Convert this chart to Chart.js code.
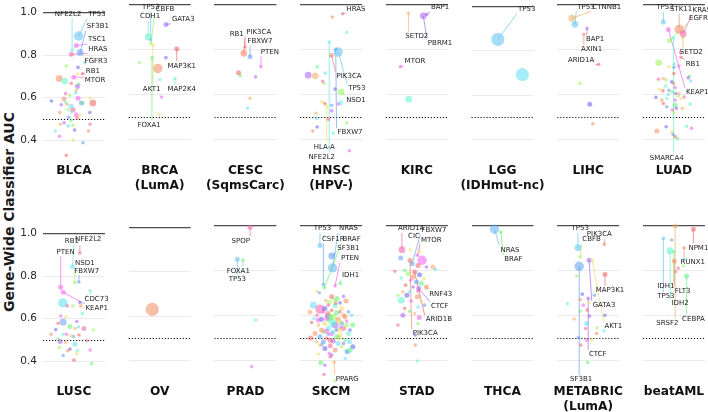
<!DOCTYPE html>
<html>
<head>
<meta charset="utf-8">
<script src="https://cdn.jsdelivr.net/npm/chart.js@4.4.1/dist/chart.umd.min.js"></script>
<style>
  html, body { margin: 0; padding: 0; width: 708px; height: 412px; overflow: hidden; background: #fff; }
  #wrap { position: relative; width: 708px; height: 412px; overflow: hidden; }
  #wrap canvas { position: absolute; }
  #ytitle {
    position: absolute; left: -141px; top: 204px; width: 300px; text-align: center;
    transform: rotate(-90deg); font: bold 14px 'DejaVu Sans', sans-serif; color: #1a1a1a;
  }
</style>
</head>
<body>
<div id="wrap"><div id="ytitle">Gene-Wide Classifier AUC</div></div>
<script>
// cohort names (second line in brackets)
const cohortNames = ['BLCA', 'BRCA\n(LumA)', 'CESC\n(SqmsCarc)', 'HNSC\n(HPV-)', 'KIRC', 'LGG\n(IDHmut-nc)', 'LIHC', 'LUAD',
  'LUSC', 'OV', 'PRAD', 'SKCM', 'STAD', 'THCA', 'METABRIC\n(LumA)', 'beatAML'];

const yTicks = [0.4, 0.6, 0.8, 1.0];

// points: [jitter, AUC, size class]
const blcaPts = [[0.15,0.889,3],[0.07,0.844,1],[-0.06,0.822,0],[0.2,0.812,2],[-0.09,0.804,1],[0.35,0.764,0],[-0.25,0.748,0],[0.13,0.742,0],
  [-0.48,0.69,2],[-0.3,0.678,2],[-0.01,0.696,1],[0.11,0.711,0],[0.27,0.712,0],[-0.09,0.668,0],[0.15,0.664,0],[0.11,0.653,1],[0.07,0.634,0],
  [0.05,0.622,0],[-0.27,0.619,0],[-0.14,0.612,0],[-0.73,0.585,0],[-0.32,0.594,1],[-0.28,0.579,0],[0.13,0.597,1],[0.52,0.597,0],[0.24,0.575,1],
  [0.61,0.575,2],[0.29,0.575,0],[-0.41,0.567,0],[-0.22,0.57,0],[-0.09,0.56,1],[-0.03,0.542,1],[-0.19,0.545,0],[0.51,0.531,0],[-0.46,0.531,0],
  [-0.09,0.533,0],[0.07,0.52,1],[0.18,0.516,0],[-0.17,0.508,0],[0.1,0.504,0],[-0.09,0.493,0],[-0.32,0.483,0],[-0.44,0.476,0],[-0.19,0.468,0],
  [0.52,0.476,0],[-0.03,0.471,0],[0.02,0.449,0],[0.47,0.444,0],[-0.6,0.444,0],[-0.47,0.419,0],[-0.03,0.401,0],[0.29,0.389,0],[-0.25,0.33,0]];
const blcaLabels = [['TP53',0,0.74,0.992],['NFE2L2',2,-0.19,0.992],['SF3B1',3,0.77,0.935],['TSC1',1,0.74,0.872],['HRAS',4,0.77,0.828],
  ['FGFR3',5,0.71,0.77],['RB1',12,0.61,0.726],['MTOR',10,0.68,0.681]];

const brcaPts = [[-0.29,0.844,0],[-0.37,0.856,2],[-0.28,0.827,0],[0.2,0.912,1],[0.55,0.804,1],[-0.25,0.764,0],[-0.22,0.819,0],[0.49,0.671,0],
  [-0.66,0.742,0],[0.2,0.764,0],[-0.06,0.716,3],[0.01,0.667,0],[0.06,0.589,0],[-0.01,0.511,0]];
const brcaLabels = [['TP53',0,-0.29,0.989],['CBFB',2,0.17,0.982],['CDH1',1,-0.31,0.948],['GATA3',3,0.76,0.935],['MAP3K1',4,0.71,0.727],
  ['AKT1',6,-0.26,0.622],['MAP2K4',7,0.71,0.622],['FOXA1',5,-0.34,0.464]];

const cescPts = [[-0.01,0.809,0],[-0.05,0.782,2],[0.15,0.767,1],[0.5,0.723,0],[-0.22,0.696,1],[-0.17,0.683,0],[0.33,0.678,0],[0.15,0.582,0],[0.07,0.538,0]];
const cescLabels = [['RB1',0,-0.28,0.868],['PIK3CA',1,0.43,0.878],['FBXW7',2,0.47,0.834],['PTEN',3,0.79,0.787]];

const hnscPts = [[0.37,0.96,0],[0.04,0.945,0],[0.5,0.876,0],[-0.06,0.834,0],[0.15,0.801,0],[0.23,0.789,3],[0.01,0.775,1],[-0.45,0.723,0],
  [-0.74,0.686,2],[-0.51,0.683,2],[-0.19,0.696,0],[-0.27,0.659,0],[-0.23,0.649,0],[0.13,0.624,0],[0.32,0.612,2],[0.31,0.563,1],[0.23,0.557,0],
  [-0.3,0.567,0],[0.02,0.552,0],[-0.2,0.56,0],[-0.14,0.548,0],[0.02,0.527,0],[-0.49,0.516,0],[-0.46,0.493,0],[-0.09,0.49,0],[0.5,0.474,0],
  [-0.45,0.455,0],[-0.59,0.437,0],[0.07,0.427,0],[0.59,0.349,0]];
const hnscLabels = [['HRAS',0,0.8,0.982],['PIK3CA',6,0.58,0.683],['TP53',5,0.83,0.627],['NSD1',14,0.8,0.575],['FBXW7',4,0.61,0.431],
  ['HLA-A',20,-0.22,0.367],['NFE2L2',3,-0.3,0.32]];

const kircPts = [[-0.27,0.96,0],[0.21,0.949,2],[0.32,0.955,0],[-0.53,0.723,0],[-0.26,0.578,2]];
const kircLabels = [['BAP1',2,0.75,0.987],['SETD2',0,0,0.859],['PBRM1',1,0.75,0.829],['MTOR',3,-0.06,0.745]];

const lggPts = [[-0.15,0.852,4],[0.64,0.693,4]];
const lggLabels = [['TP53',0,0.78,0.989]];

const lihcPts = [[-0.53,0.938,2],[-0.43,0.911,2],[-0.04,0.893,0],[-0.14,0.867,0],[0.34,0.733,0],[-0.27,0.649,0],[0.05,0.556,1],[0.15,0.469,0]];
const lihcLabels = [['TP53',1,-0.07,0.989],['CTNNB1',0,0.6,0.989],['BAP1',2,0.22,0.844],['AXIN1',3,0.11,0.8],['ARID1A',4,-0.23,0.752]];

const luadPts = [[-0.34,0.923,1],[0.17,0.89,3],[0.3,0.871,2],[-0.18,0.89,1],[-0.01,0.852,0],[-0.14,0.841,1],[0.21,0.787,0],[-0.49,0.742,2],
  [0.23,0.766,0],[0.29,0.856,0],[0.01,0.735,0],[0.16,0.727,0],[-0.16,0.723,0],[0,0.72,0],[0,0.693,0],[0.5,0.681,0],[0.46,0.674,0],
  [-0.34,0.671,0],[0.54,0.66,0],[-0.5,0.668,0],[-0.25,0.664,0],[-0.07,0.656,0],[-0.01,0.649,0],[-0.26,0.637,0],[0.04,0.631,0],[-0.47,0.622,0],
  [-0.16,0.619,0],[-0.35,0.616,0],[-0.05,0.612,0],[0.06,0.604,0],[0.16,0.604,0],[-0.18,0.6,0],[0.33,0.589,0],[0.14,0.593,0],[-0.58,0.587,0],
  [-0.39,0.575,0],[-0.23,0.582,0],[0.04,0.575,0],[0.23,0.582,0],[-0.23,0.545,0],[-0.34,0.56,0],[0.04,0.552,1],[0.08,0.538,0],[0.27,0.538,0],
  [0.52,0.557,0],[-0.05,0.531,0],[0,0.518,0],[-0.25,0.456,0],[-0.55,0.437,1],[0.41,0.458,0],[0.57,0.449,0],[-0.07,0.434,0],[-0.03,0.422,0],
  [0.04,0.412,0],[0.12,0.404,0]];
const luadLabels = [['TP53',0,-0.29,0.989],['STK11',1,0.23,0.982],['KRAS',2,0.9,0.975],['EGFR',5,0.79,0.938],['SETD2',9,0.56,0.787],
  ['RB1',8,0.61,0.735],['KEAP1',3,0.75,0.609],['SMARCA4',4,-0.23,0.318]];

const luscPts = [[0.19,0.908,0],[-0.05,0.843,1],[0.03,0.769,0],[0.16,0.772,0],[0.52,0.731,0],[-0.43,0.747,1],[-0.35,0.724,1],[-0.36,0.674,3],
  [-0.22,0.66,0],[-0.04,0.66,0],[0.19,0.676,0],[0.22,0.66,0],[0.27,0.624,0],[-0.43,0.613,0],[-0.27,0.609,0],[-0.35,0.584,2],[-0.51,0.579,0],
  [-0.13,0.564,1],[0.09,0.587,0],[0.03,0.554,0],[0.14,0.561,0],[0.32,0.554,1],[0.62,0.547,0],[-0.59,0.549,0],[-0.74,0.527,0],[-0.35,0.527,0],
  [-0.24,0.527,0],[-0.11,0.52,0],[-0.02,0.517,0],[0.16,0.524,0],[-0.51,0.505,0],[-0.45,0.493,1],[-0.27,0.49,0],[0.03,0.48,1],[0.41,0.498,0],
  [-0.47,0.465,0],[-0.13,0.458,0],[-0.2,0.45,0],[0.11,0.45,0],[0.52,0.453,0],[0.09,0.436,0],[-0.35,0.428,0],[0,0.406,0],[0.57,0.389,0]];
const luscLabels = [['RB1',0,-0.07,0.964],['NFE2L2',1,0.46,0.972],['PTEN',5,-0.27,0.912],['NSD1',2,0.35,0.86],['FBXW7',3,0.41,0.824],
  ['CDC73',4,0.73,0.69],['KEAP1',6,0.73,0.649]];

const ovPts = [[-0.24,0.631,4]];
const ovLabels = [];

const pradPts = [[0.15,0.991,1],[-0.26,0.849,1],[-0.08,0.846,0],[0.33,0.579,0],[0.2,0.372,0]];
const pradLabels = [['SPOP',0,-0.15,0.93],['FOXA1',2,-0.23,0.797],['TP53',1,-0.26,0.76]];

const skcmPts = [[-0.36,0.912,1],[0.02,0.865,2],[0.05,0.812,3],[-0.25,0.738,0],[-0.22,0.723,0],[0.13,0.732,0],[0.29,0.742,0],[-0.47,0.708,0],
  [-0.38,0.701,0],
  [0.02,0.683,1],[0.2,0.676,1],[0.4,0.685,0],[-0.17,0.667,0],[-0.57,0.646,2],[-0.36,0.628,3],[-0.06,0.658,1],[0.29,0.656,0],[0.48,0.664,1],
  [0.13,0.643,1],[-0.25,0.616,0],[0.34,0.631,1],[0.56,0.616,0],[0.02,0.623,0],[0.18,0.613,1],[-0.12,0.601,1],[0.4,0.601,1],[0.66,0.601,0],
  [-0.46,0.601,0],[0.07,0.594,2],[-0.31,0.583,1],[0.23,0.583,1],[-0.03,0.575,1],[0.5,0.575,0],[-0.2,0.564,1],[0.34,0.564,1],[-0.63,0.569,0],
  [0.7,0.557,1],[0.13,0.557,2],[-0.41,0.557,0],[-0.09,0.542,1],[0.4,0.542,1],[-0.25,0.527,1],[0.18,0.535,0],[-0.52,0.52,1],[0.56,0.52,1],
  [0.02,0.52,1],[0.29,0.513,1],[-0.36,0.505,1],[-0.14,0.498,0],[0.45,0.49,0],[0.07,0.486,1],[-0.46,0.483,0],[0.23,0.475,1],[-0.03,0.465,1],
  [0.34,0.461,0],[-0.2,0.453,1],[0.13,0.446,1],[0.5,0.441,0],[-0.06,0.431,0],
  [-0.41,0.427,0],[0.52,0.438,1],[-0.03,0.416,0],[-0.33,0.389,1],[-0.2,0.378,0],[0.1,0.393,0],[0.45,0.408,0],[-0.23,0.337,0],[0.13,0.309,0],
  [0.7,0.461,1],[-0.1,0.61,1],[0.1,0.57,1],[-0.15,0.53,1],[0.25,0.5,1],[-0.3,0.47,0],[0.15,0.655,0],[-0.05,0.59,2],[0.3,0.545,0],
  [-0.68,0.616,1],[-0.55,0.586,0],[0.29,0.616,0],[0.5,0.557,1],[0.61,0.535,0],[-0.31,0.535,1],[0.07,0.527,1],[-0.14,0.586,1],[0.27,0.572,1],
  [-0.25,0.483,1],[-0.03,0.49,1],[0.18,0.505,1],[0.4,0.475,0],[-0.36,0.468,0],[0.59,0.483,1],[-0.09,0.646,0],[0.13,0.667,1],[-0.2,0.631,1],
  [0.45,0.594,1],[0.02,0.557,1],[-0.41,0.58,1],[0.29,0.535,1],[-0.09,0.516,0],[-0.66,0.5,1],[0.61,0.446,1],[0.02,0.424,0]];
const skcmLabels = [['TP53',0,-0.28,0.987],['NRAS',2,0.56,0.987],['CSF1R',3,0.07,0.942],['BRAF',4,0.66,0.942],['SF3B1',1,0.56,0.902],
  ['PTEN',5,0.61,0.856],['IDH1',6,0.63,0.779],['PPARG',64,0.52,0.317]];

const stadPts = [[-0.48,0.893,2],[-0.15,0.831,1],[0.09,0.883,0],[0.02,0.868,0],[0.31,0.727,1],[0.06,0.72,1],[-0.07,0.794,1],[-0.22,0.846,1],
  [0.17,0.846,3],[-0.21,0.893,0],[-0.52,0.856,1],[0.04,0.823,1],[-0.39,0.801,0],[0.31,0.816,0],[0.52,0.816,1],[0.6,0.806,0],[-0.71,0.797,0],
  [-0.28,0.786,1],[0.09,0.782,1],[-0.12,0.771,1],[-0.5,0.767,0],[-0.2,0.757,0],[0.23,0.764,0],[-0.01,0.749,1],[-0.36,0.735,0],[0.15,0.742,1],
  [-0.12,0.727,0],[-0.45,0.705,0],[-0.23,0.705,0],[0.04,0.708,0],[-0.61,0.69,0],[-0.32,0.69,1],[0.02,0.683,1],[-0.5,0.668,2],[-0.18,0.664,0],
  [0.15,0.661,0],[0.25,0.646,0],[-0.39,0.631,0],[-0.23,0.619,0],[-0.45,0.601,1],[-0.07,0.609,0],[0.04,0.638,0],[-0.61,0.557,0],[0.04,0.564,0],
  [-0.05,0.513,0],[-0.05,0.468,0],[0.02,0.397,0],[0.08,0.591,1]];
const stadLabels = [['ARID1A',0,-0.18,0.987],['FBXW7',1,0.55,0.982],['CIC',2,-0.09,0.952],['MTOR',3,0.47,0.935],['RNF43',4,0.77,0.695],
  ['CTCF',5,0.74,0.641],['ARID1B',6,0.71,0.582],['PIK3CA',7,0.27,0.52]];

const thcaPts = [[-0.26,0.984,3],[-0.05,0.972,0]];
const thcaLabels = [['NRAS',0,0.24,0.893],['BRAF',1,0.35,0.849]];

const metabricPts = [[-0.33,0.902,2],[0.52,0.916,0],[-0.26,0.86,0],[-0.29,0.819,3],[0.54,0.784,1],[0.03,0.846,1],[0.13,0.846,0],[0,0.676,0],
  [-0.37,0.775,0],[-0.19,0.695,0],[-0.26,0.671,0],[-0.67,0.653,0],[-0.16,0.646,0],[0.03,0.658,0],[0.2,0.69,0],[-0.03,0.624,0],[-0.26,0.619,0],
  [0.04,0.597,0],[-0.45,0.584,0],[-0.05,0.564,1],[-0.08,0.542,0],[0.29,0.545,0],[0.54,0.601,0],[0.27,0.52,0],[0.51,0.532,0],[-0.05,0.49,0],
  [0.11,0.49,0],[-0.32,0.502,0],[-0.24,0.468,0],[-0.02,0.391,0]];
const metabricLabels = [['TP53',0,-0.26,0.987],['PIK3CA',1,0.36,0.961],['CBFB',2,0.11,0.938],['MAP3K1',4,0.7,0.712],['GATA3',5,0.51,0.645],
  ['AKT1',6,0.81,0.552],['CTCF',7,0.31,0.427],['SF3B1',3,-0.23,0.317]];

const beatamlPts = [[0.04,0.997,1],[0.63,0.982,1],[-0.34,0.942,0],[-0.07,0.935,0],[0.33,0.9,0],[-0.13,0.887,2],[0,0.883,0],[0.01,0.841,1],
  [0.33,0.849,0],[0.14,0.809,0],[0.3,0.819,0],[0.41,0.775,1],[0.06,0.794,0]];
const beatamlLabels = [['NPM1',1,0.79,0.9],['RUNX1',4,0.61,0.836],['IDH1',6,-0.26,0.73],['FLT3',7,0.28,0.709],['TP53',2,-0.26,0.683],
  ['IDH2',5,0.2,0.653],['SRSF2',0,-0.21,0.567],['CEBPA',11,0.63,0.584]];

const cohortPoints = [blcaPts, brcaPts, cescPts, hnscPts, kircPts, lggPts, lihcPts, luadPts,
  luscPts, ovPts, pradPts, skcmPts, stadPts, thcaPts, metabricPts, beatamlPts];
const cohortLabels = [blcaLabels, brcaLabels, cescLabels, hnscLabels, kircLabels, lggLabels, lihcLabels, luadLabels,
  luscLabels, ovLabels, pradLabels, skcmLabels, stadLabels, thcaLabels, metabricLabels, beatamlLabels];

// ---- layout / style ----
const FONT = "'DejaVu Sans', sans-serif";
const PANEL_W = 62, STEP = 85.7, LEFT0 = 43, PAD = 36;
const ROW_TOP = [0, 221], CANVAS_H = 196, TOP_PAD = 4.3, PLOT_H = 157.5;
const radius = [1.8, 2.5, 3.4, 4.7, 6.6];
const hues = [0, 18, 32, 52, 95, 130, 165, 188, 215, 240, 270, 300, 330];
const geneHue = {TP53: 200, NRAS: 205, KRAS: 330, PIK3CA: 12, BRAF: 120, PTEN: 305, FBXW7: 215, NFE2L2: 185, RB1: 345, GATA3: 265};

function hueFor(gene, i, p) {
  if (gene) {
    if (gene in geneHue) return geneHue[gene];
    let h = 7;
    for (const c of gene) h = (h * 31 + c.charCodeAt(0)) % 9973;
    return hues[h % hues.length];
  }
  return hues[(i * 5 + p * 3) % hues.length];
}
const fill = h => `hsla(${h}, 85%, 66%, 0.55)`;

function panelPlugin(pts, labels, hueList, titleLines) {
  return {
    id: 'panelDecor',
    beforeDatasetsDraw(chart) {
      const {ctx, chartArea: a, scales: {x, y}} = chart;
      const y5 = Math.round(y.getPixelForValue(0.5)) + 0.5;
      ctx.save();
      ctx.strokeStyle = '#111';
      ctx.lineWidth = 1.1;
      ctx.setLineDash([1.2, 1.8]);
      ctx.beginPath(); ctx.moveTo(a.left, y5); ctx.lineTo(a.right, y5); ctx.stroke();
      ctx.setLineDash([]);
      ctx.font = `7px ${FONT}`;
      ctx.lineWidth = 0.8;
      labels.forEach(([gene, i, lx, ly]) => {
        const p = pts[i];
        const px = x.getPixelForValue(p[0]), py = y.getPixelForValue(p[1]);
        const tx = x.getPixelForValue(lx), ty = y.getPixelForValue(ly);
        const w = ctx.measureText(gene).width / 2 + 1, h = 4.5;
        const ex = Math.min(Math.max(px, tx - w), tx + w);
        const ey = Math.min(Math.max(py, ty - h), ty + h);
        ctx.strokeStyle = `hsla(${hueList[i]}, 80%, 62%, 0.75)`;
        ctx.beginPath(); ctx.moveTo(px, py); ctx.lineTo(ex, ey); ctx.stroke();
      });
      ctx.restore();
    },
    afterDatasetsDraw(chart) {
      const {ctx, chartArea: a, scales: {x, y}} = chart;
      ctx.save();
      ctx.font = `7px ${FONT}`;
      ctx.fillStyle = '#222';
      ctx.textAlign = 'center';
      ctx.textBaseline = 'middle';
      labels.forEach(([gene, i, lx, ly]) => {
        ctx.fillText(gene, x.getPixelForValue(lx), y.getPixelForValue(ly));
      });
      // cohort title under the panel
      ctx.font = `bold 12.2px ${FONT}`;
      ctx.fillStyle = '#111';
      const cx = (a.left + a.right) / 2;
      titleLines.forEach((t, k) => ctx.fillText(t, cx, a.bottom + 9.5 + 15 * k));
      ctx.restore();
    }
  };
}

const wrap = document.getElementById('wrap');

cohortNames.forEach((name, p) => {
  const row = Math.floor(p / 8), col = p % 8;
  const pts = cohortPoints[p], labels = cohortLabels[p];
  const geneAt = {};
  labels.forEach(([g, i]) => { if (!(i in geneAt)) geneAt[i] = g; });
  const hueList = pts.map((_, i) => hueFor(geneAt[i], i, p));

  const x0 = LEFT0 + STEP * col;
  const left = Math.round(x0 - PAD);
  const axisW = col === 0 ? 24 : 0;

  const cv = document.createElement('canvas');
  cv.width = PANEL_W + 2 * PAD;
  cv.height = CANVAS_H;
  cv.style.left = left + 'px';
  cv.style.top = ROW_TOP[row] + 'px';
  wrap.appendChild(cv);

  new Chart(cv, {
    type: 'scatter',
    data: {
      datasets: [{
        data: pts.map(([x, y, s]) => ({x, y, s})),
        pointRadius: ctx => radius[ctx.raw.s],
        pointBackgroundColor: ctx => fill(hueList[ctx.dataIndex]),
        pointBorderWidth: 0,
        clip: false
      }]
    },
    options: {
      responsive: false,
      animation: false,
      events: [],
      layout: {
        padding: {
          left: x0 - left - axisW,
          right: cv.width - (x0 - left) - PANEL_W,
          top: TOP_PAD,
          bottom: CANVAS_H - TOP_PAD - PLOT_H
        }
      },
      scales: {
        x: { display: false, min: -1, max: 1 },
        y: {
          min: 0.3, max: 1.0,
          afterBuildTicks: s => { s.ticks = yTicks.map(v => ({value: v})); },
          afterFit: s => { s.width = axisW; },
          border: { display: false },
          grid: {
            drawTicks: false,
            color: ctx => ctx.tick && ctx.tick.value === 1 ? '#4d4d4d' : '#ebebeb',
            lineWidth: ctx => ctx.tick && ctx.tick.value === 1 ? 1.2 : 1
          },
          ticks: {
            display: col === 0,
            padding: 6,
            color: '#262626',
            font: { family: FONT, size: 10.5 },
            callback: v => v.toFixed(1)
          }
        }
      },
      plugins: {
        legend: { display: false },
        tooltip: { enabled: false }
      }
    },
    plugins: [panelPlugin(pts, labels, hueList, name.split('\n'))]
  });
});
</script>
</body>
</html>
